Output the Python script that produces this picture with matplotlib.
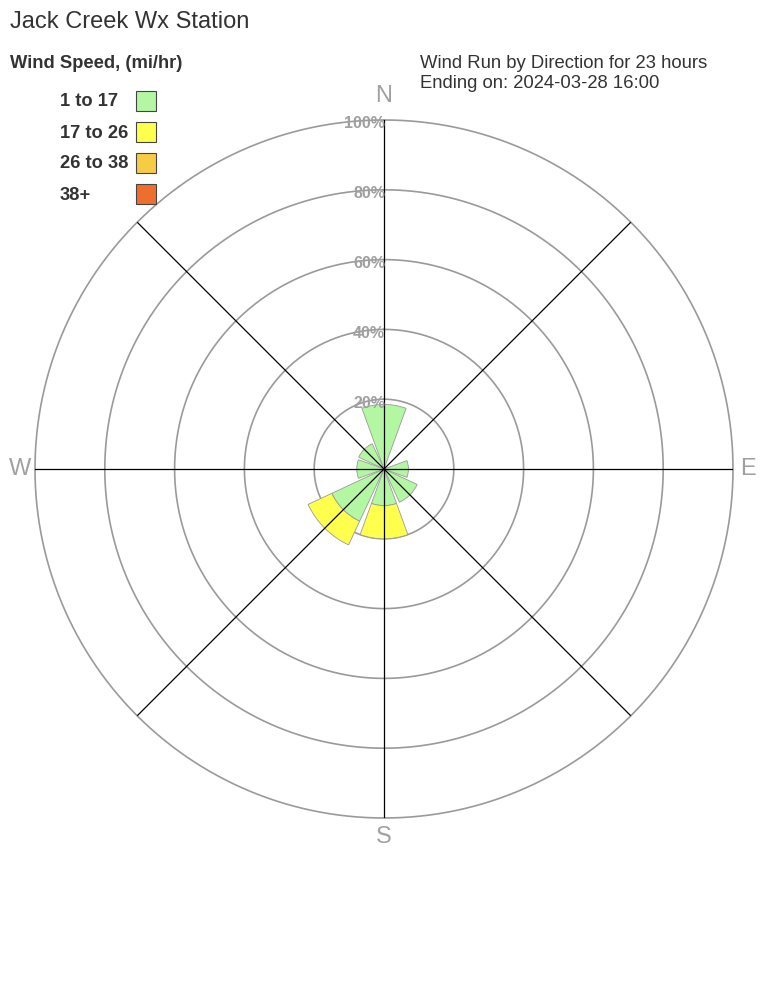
import numpy as np
import matplotlib
matplotlib.use("Agg")
import matplotlib.pyplot as plt
from matplotlib.patches import Rectangle

plt.rcParams['font.family'] = ['Liberation Sans', 'DejaVu Sans']

# wind run share (%) by direction and speed class
directions = ['N', 'NE', 'E', 'SE', 'S', 'SW', 'W', 'NW']
dir_angles = [0, 45, 90, 135, 180, 225, 270, 315]
speed_1_17 = [18.5, 0, 7.0, 10.5, 10.5, 16.5, 7.8, 8.0]
speed_17_26 = [0, 0, 0, 0, 9.5, 7.5, 0, 0]
speed_26_38 = [0, 0, 0, 0, 0, 0, 0, 0]
speed_38_plus = [0, 0, 0, 0, 0, 0, 0, 0]
speed_labels = ['1 to 17', '17 to 26', '26 to 38', '38+']
speed_colors = ['#b3f7a3', '#ffff4d', '#f7cc45', '#ee6f2d']
ring_values = [20, 40, 60, 80, 100]

W, H = 768, 1008
fig = plt.figure(figsize=(W / 100, H / 100), dpi=100)

cx, cy, R = 384, 469, 349
ax = fig.add_axes([(cx - R) / W, (H - cy - R) / H, 2 * R / W, 2 * R / H],
                  projection='polar')
ax.set_theta_zero_location('N')
ax.set_theta_direction(-1)
ax.set_ylim(0, 100)
ax.grid(False)
ax.set_xticks([])
ax.set_yticks([])
ax.spines['polar'].set_visible(False)

# rings
t = np.linspace(0, 2 * np.pi, 721)
for rv in ring_values:
    ax.plot(t, np.full_like(t, rv), color='#9a9a9a', lw=1.2, zorder=1, clip_on=False)

# stacked wedges
theta = np.deg2rad(dir_angles)
width = np.deg2rad(40)
bottom = np.zeros(len(directions))
for vals, col in zip([speed_1_17, speed_17_26, speed_26_38, speed_38_plus], speed_colors):
    vals = np.array(vals, dtype=float)
    mask = vals > 0
    ax.bar(theta[mask], vals[mask], width=width, bottom=bottom[mask], color=col,
           edgecolor='#9a9a9a', linewidth=0.6, zorder=2)
    bottom += vals

# spokes
for a in dir_angles:
    ax.plot([np.deg2rad(a), np.deg2rad(a)], [0, 100], color='black', lw=0.9, zorder=3)

# ring labels, sitting just below each ring
for rv in ring_values:
    ax.annotate(f'{rv}%', xy=(0, rv), xytext=(1, -4), textcoords='offset pixels',
                ha='right', va='center', fontsize=11.5, color='#a0a0a0',
                fontweight='bold', zorder=4)

# compass labels
for lab, a, r in [('N', 0, 106.8), ('E', 90, 104.3), ('S', 180, 105.5), ('W', 270, 104.3)]:
    ax.text(np.deg2rad(a), r, lab, ha='center', va='center', fontsize=17,
            color='#a0a0a0', clip_on=False)

# titles
fig.text(10 / W, 1 - 22 / H, 'Jack Creek Wx Station', fontsize=17, color='#333333',
         ha='left', va='center')
fig.text(10 / W, 1 - 64 / H, 'Wind Speed, (mi/hr)', fontsize=13.2, fontweight='bold',
         color='#333333', ha='left', va='center')
fig.text(420 / W, 1 - 64 / H, 'Wind Run by Direction for 23 hours', fontsize=13.3,
         color='#333333', ha='left', va='center')
fig.text(420 / W, 1 - 83 / H, 'Ending on: 2024-03-28 16:00', fontsize=13.3,
         color='#333333', ha='left', va='center')

# legend
for i, (lab, col) in enumerate(zip(speed_labels, speed_colors)):
    y = 101 + i * 31
    fig.text(60 / W, 1 - (y + 1) / H, lab, fontsize=13.2, fontweight='bold', color='#333333',
             ha='left', va='center')
    fig.patches.append(Rectangle((136 / W, 1 - (y + 10) / H), 20 / W, 20 / H,
                                 transform=fig.transFigure, facecolor=col,
                                 edgecolor='#444444', linewidth=0.8))

fig.savefig('out.png', dpi=100)
